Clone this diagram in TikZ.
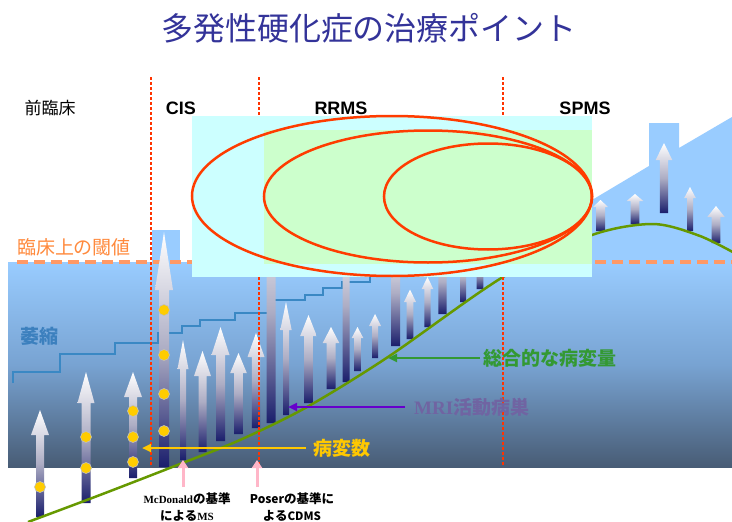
\documentclass[tikz,border=0pt]{standalone}
\usepackage{fontspec}
\setmainfont{Liberation Sans}
\newfontfamily\jp{Noto Sans CJK JP}
\newfontfamily\tms{Liberation Serif}
\usetikzlibrary{arrows.meta}
\definecolor{titleblue}{HTML}{333399}
\definecolor{skyb}{HTML}{99CCFF}
\definecolor{bgmid}{HTML}{78A3D2}
\definecolor{bgbot}{HTML}{485C75}
\definecolor{arrnavy}{HTML}{1A1E6C}
\definecolor{arrmid}{HTML}{ADADC4}
\definecolor{thresh}{HTML}{FF9966}
\definecolor{threshtxt}{HTML}{FF8A3D}
\definecolor{stairc}{HTML}{3A88C4}
\definecolor{curvec}{HTML}{669900}
\definecolor{redl}{HTML}{FF3300}
\definecolor{ellc}{HTML}{FF3C00}
\definecolor{cyanbox}{HTML}{CCFFFF}
\definecolor{greenbox}{HTML}{CCFFCC}
\definecolor{dotc}{HTML}{FFCC00}
\definecolor{totalc}{HTML}{339933}
\definecolor{mritxt}{HTML}{7064A2}
\definecolor{mril}{HTML}{6600CC}
\definecolor{lesc}{HTML}{FFC800}
\definecolor{atroc}{HTML}{3C80BE}
\definecolor{pinkc}{HTML}{FFB6C8}
\newcommand{\grarrow}[6]{%
  \shade[top color=white, bottom color=arrnavy, middle color=arrmid]
  ({#1-#5},#4) -- ({#1-#5},#3) -- ({#1-#6},#3) -- (#1,#2) --
  ({#1+#6},#3) -- ({#1+#5},#3) -- ({#1+#5},#4) -- cycle;}
\newcommand{\ydot}[2]{\filldraw[fill=dotc, draw=black!25, line width=0.6pt] (#1,#2) circle [radius=5.5pt];}
\tikzset{
  leader/.style={line width=2.5pt, -{Triangle[length=9pt,width=8pt]}},
  pinkarr/.style={pinkc, line width=3pt, -{Triangle[length=8pt,width=10pt]}},
  phase/.style={font=\bfseries\fontsize{18}{20}\selectfont},
  redline/.style={redl, line width=1.3pt, dash pattern=on 3pt off 2pt},
  ell/.style={ellc, line width=2.5pt},
  lbl/.style={inner sep=0pt, font=\jp\bfseries\fontsize{19}{22}\selectfont},
}
\begin{document}
\begin{tikzpicture}[x=1pt,y=-1pt]
\useasboundingbox (0,0) rectangle (732,522);
\fill[white] (0,0) rectangle (732,522);
\clip (0,0) rectangle (732,522);
% background
\shade[top color=skyb, bottom color=bgbot, middle color=bgmid] (8,262) rectangle (732,467);
\fill[skyb] (592,262) -- (592,200) -- (649,166) -- (649,123) -- (679,123) -- (679,148) -- (732,117) -- (732,262) -- cycle;
\fill[skyb] (152,230) rectangle (180,262);
% threshold
\draw[thresh, line width=4pt, dash pattern=on 11pt off 6pt] (17,262) -- (732,262);
% atrophy staircase
\draw[stairc, line width=2.7pt] (13,383) -- (13,372) -- (60,372) -- (60,354) -- (115,354) -- (115,343) -- (158,343) -- (158,333) -- (182,333) -- (182,326) -- (200,326) -- (200,320) -- (235,320) -- (235,313) -- (271,313) -- (271,300) -- (305,300) -- (305,295) -- (323,295) -- (323,288) -- (342,288) -- (342,282) -- (370,282) -- (370,277);
% arrows
\grarrow{40}{410}{435}{517}{4}{9}
\grarrow{86}{372}{403}{503}{4.5}{8.5}
\grarrow{133}{372}{397}{478}{4}{9}
\grarrow{164}{232}{290}{467}{5}{9}
\grarrow{183}{340}{369}{460}{3}{5.5}
\grarrow{202.5}{351}{376}{452}{4}{8.5}
\grarrow{220.5}{327}{355}{441}{4.5}{9}
\grarrow{238.5}{353}{373}{434}{4.3}{8.3}
\grarrow{256}{333}{357}{428}{4.2}{8.5}
\grarrow{271}{200}{225}{423}{4.5}{9}
\grarrow{286}{302}{330}{415}{3}{5.7}
\grarrow{308.5}{315}{336}{403}{4.3}{8.3}
\grarrow{331}{327}{343}{389}{4.5}{8.3}
\grarrow{346}{230}{250}{382}{3.5}{7}
\grarrow{357.5}{327}{338}{371}{3.3}{5.8}
\grarrow{375}{314}{326}{358}{3}{6}
\grarrow{395.5}{240}{260}{346}{4.5}{8}
\grarrow{410}{289.5}{302}{339}{3.3}{6}
\grarrow{427.5}{277}{289}{327}{3.2}{5.8}
\grarrow{442.5}{250}{262}{314}{4.2}{7}
\grarrow{463}{255}{265}{302}{3}{6}
\grarrow{480}{258}{268}{289}{3.3}{6}
\grarrow{600.5}{200}{207}{231}{4.5}{7.5}
\grarrow{635}{194}{201}{224}{4.3}{8.3}
\grarrow{664}{143}{160}{213}{4.2}{8.3}
\grarrow{690}{187}{198}{231}{3}{5.8}
\grarrow{716}{206}{217}{243}{4.3}{8.7}
% lesion dots
\ydot{40}{487}
\ydot{86}{437}\ydot{86}{468}
\ydot{133}{411}\ydot{133}{437}\ydot{133}{462}
\ydot{164}{310}\ydot{164}{355}\ydot{164}{394}\ydot{164}{431}
% total lesion load curve
\draw[curvec, line width=2.5pt] plot[smooth, tension=0.5] coordinates {(28,522) (100,495) (180,464) (240,440) (307,407) (388,357) (503,277) (592,235) (653,224) (700,236) (740,256)};
% phase boundaries
\draw[redline] (151,77) -- (151,467);
\draw[redline] (259,77) -- (259,467);
\draw[redline] (503,77) -- (503,467);
% labels with leaders
\node[lbl, text=atroc] (lblAtro) at (39,336) {萎縮};
\node[lbl, text=totalc, anchor=west] (lblTotal) at (483,358) {総合的な病変量};
\coordinate (tipTotal) at (388,358);
\draw[leader, totalc] ([xshift=-3pt]lblTotal.west) -- (tipTotal);
\node[lbl, text=mritxt, anchor=west] (lblMri) at (414,407) {{\tms\bfseries MRI}活動病巣};
\coordinate (tipMri) at (288,407);
\draw[leader, mril] ([xshift=-9pt]lblMri.west) -- (tipMri);
\node[lbl, text=lesc, anchor=west] (lblLes) at (313,448) {病変数};
\coordinate (tipLes) at (142,448);
\draw[leader, lesc] ([xshift=-7pt]lblLes.west) -- (tipLes);
\node[inner sep=0pt, text=threshtxt, font=\jp\fontsize{19}{22}\selectfont] (lblThr) at (74,247) {臨床上の閾値};
% criteria
\coordinate (mcdBase) at (183,487);
\coordinate (mcdTip) at (183,460);
\draw[pinkarr] (mcdBase) -- (mcdTip);
\coordinate (posBase) at (257,487);
\coordinate (posTip) at (257,460);
\draw[pinkarr] (posBase) -- (posTip);
\node[align=center, inner sep=0pt, font=\jp\bfseries\fontsize{12.5}{17}\selectfont] (lblMcd) at (187,507) {{\tms\bfseries\fontsize{11}{17}\selectfont McDonald}の基準\\による{\tms\bfseries\fontsize{11}{17}\selectfont MS}};
\node[align=center, inner sep=0pt, font=\jp\bfseries\fontsize{12.5}{17}\selectfont] (lblPos) at (292,507) {{\bfseries\fontsize{12}{17}\selectfont Poser}の基準に\\よる{\bfseries\fontsize{11.5}{17}\selectfont CDMS}};
% overlays
\fill[cyanbox] (192,116) rectangle (592,277);
\fill[greenbox] (264,130) rectangle (592,264);
\draw[ell] (392,196) ellipse [x radius=200pt, y radius=80pt];
\draw[ell] (428,196.5) ellipse [x radius=164pt, y radius=66pt];
\draw[ell] (488,196.5) ellipse [x radius=104pt, y radius=53pt];
% title and phases
\node[text=titleblue, font=\jp\fontsize{32}{36}\selectfont] (title) at (369,28) {多発性硬化症の治療ポイント};
\node[font=\jp\fontsize{17}{20}\selectfont] (lblPre) at (50,108) {前臨床};
\node[phase] (lblCis) at (181,108) {CIS};
\node[phase] (lblRr) at (341,108) {RRMS};
\node[phase] (lblSp) at (585,108) {SPMS};
\end{tikzpicture}
\end{document}
